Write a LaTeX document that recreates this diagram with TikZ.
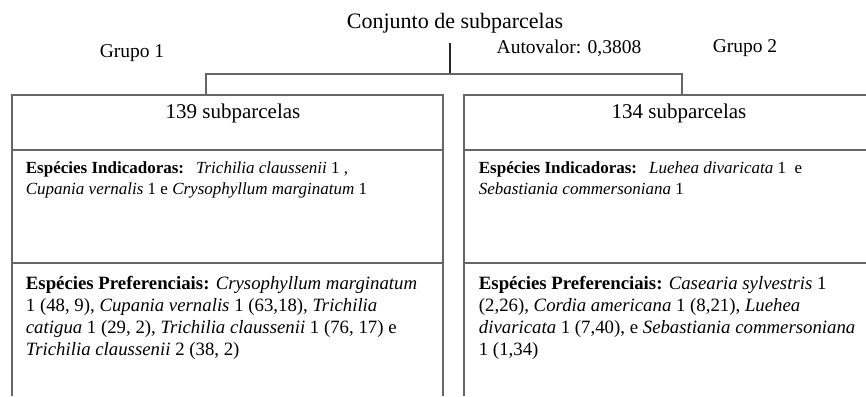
\documentclass[tikz,border=0pt]{standalone}
\usepackage{fontspec}
\setmainfont{Liberation Serif}

\begin{document}
\begin{tikzpicture}
  [
    x=1pt, y=-1pt,
    line width=1.8pt,
    frame/.style={draw=black!60},
    title text/.style={font=\fontsize{22}{26}\selectfont},
    group text/.style={font=\fontsize{19.5}{23}\selectfont},
    head text/.style={font=\fontsize{21}{25}\selectfont},
    ind text/.style={font=\fontsize{17}{21}\selectfont, anchor=base west, inner sep=0pt, align=left},
    pref text/.style={font=\fontsize{18.8}{21.8}\selectfont, anchor=base west, inner sep=0pt, align=left}
    ]
  \useasboundingbox (0,0) rectangle (866,396);

  \node[title text] (conj) at (455,23) {Conjunto de subparcelas};
  \node[group text] (g1) at (132,53) {Grupo 1};
  \node[group text] (auto) at (569,48) {Autovalor: 0,3808};
  \node[group text] (g2) at (745,48) {Grupo 2};

  % divisao
  \coordinate (root) at (450,43);
  \coordinate (fork) at (450,74);
  \coordinate (top1) at (206,95);
  \coordinate (top2) at (682,95);
  \draw[black!85] (root) -- (fork);
  \draw[frame] (top1) |- (fork) -| (top2);

  % grupo 1
  \draw[frame] (12,396) |- (443,95) -- (443,396);
  \draw[frame] (12,150) -- (443,150);
  \draw[frame] (12,263) -- (443,263);
  % grupo 2
  \draw[frame] (464,396) |- (880,95);
  \draw[frame] (464,150) -- (880,150);
  \draw[frame] (464,263) -- (880,263);

  \node[head text] (n1) at (233,113) {139 subparcelas};
  \node[head text] (n2) at (679,113) {134 subparcelas};

  % base = ultima linha
  \node[ind text] (ind1) at (25,194) {\textbf{Espécies Indicadoras:}\hspace{12pt}\textit{Trichilia claussenii} 1 ,\\
    \textit{Cupania vernalis} 1 e \textit{Crysophyllum marginatum} 1};
  \node[ind text] (ind2) at (478,194) {\textbf{Espécies Indicadoras:}\hspace{12pt}\textit{Luehea divaricata} 1\ \ e\\
    \textit{Sebastiania commersoniana} 1};

  \node[pref text] (pref1) at (25,355) {\textbf{Espécies Preferenciais:} \textit{Crysophyllum marginatum}\\
    1 (48, 9), \textit{Cupania vernalis} 1 (63,18), \textit{Trichilia}\\
    \textit{catigua} 1 (29, 2), \textit{Trichilia claussenii} 1 (76, 17) e\\
    \textit{Trichilia claussenii} 2 (38, 2)};
  \node[pref text] (pref2) at (478,355) {\textbf{Espécies Preferenciais:} \textit{Casearia sylvestris} 1\\
    (2,26), \textit{Cordia americana} 1 (8,21), \textit{Luehea}\\
    \textit{divaricata} 1 (7,40), e \textit{Sebastiania commersoniana}\\
    1 (1,34)};

\end{tikzpicture}
\end{document}
